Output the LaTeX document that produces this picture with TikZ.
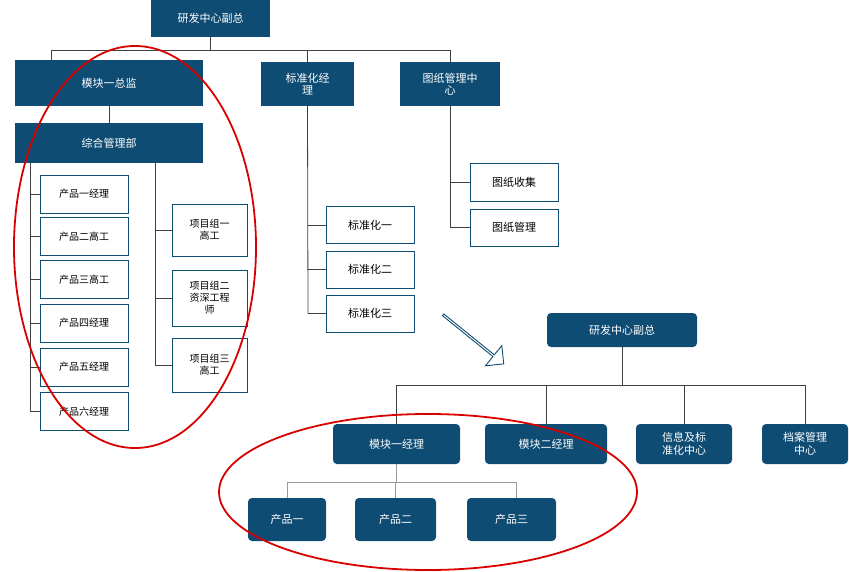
\documentclass[tikz,border=0pt]{standalone}
\usepackage{fontspec}
\setmainfont{Noto Sans CJK SC}
\usetikzlibrary{shapes.arrows}
\definecolor{nb}{HTML}{0F4C73}
\begin{document}
\begin{tikzpicture}[x=1pt,y=-1pt,
 hb/.style={fill=nb,text=white,font=\fontsize{11}{12}\selectfont,align=center,inner sep=0pt},
 wb/.style={draw=nb,fill=white,line width=0.8pt,font=\fontsize{10}{12}\selectfont,align=center,inner sep=0pt},
 rb/.style={fill=nb,text=white,rounded corners=4pt,font=\fontsize{11}{13}\selectfont,align=center,inner sep=0pt},
 ln/.style={draw=black!75,line width=0.8pt},
 tl/.style={draw=black!40,line width=0.6pt}]
\useasboundingbox (0,0) rectangle (849,572);
% top chart
\node[hb,minimum width=119,minimum height=37] (top) at (210.5,18.5) {研发中心副总};
\node[hb,minimum width=188,minimum height=46] (m1) at (109,83) {模块一总监};
\node[hb,minimum width=93,minimum height=44] (bz) at (307.5,84) {标准化经\\理};
\node[hb,minimum width=100,minimum height=44] (tz) at (450,84) {图纸管理中\\心};
\node[hb,minimum width=188,minimum height=40] (zh) at (109,143) {综合管理部};
\coordinate (hl) at (51,50);
\draw[ln] (top.south) -- (210.5,50);
\draw[ln] (51,60) -- (51,50) -- (450,50) -- (tz.north);
\draw[ln] (bz.north) -- (307.5,50);
\draw[ln] (m1.south) -- (zh.north);
\foreach \n/\t/\y in {p1/产品一经理/194,p2/产品二高工/236.5,p3/产品三高工/279.5,p4/产品四经理/323,p5/产品五经理/367,p6/产品六经理/411.5}
 \node[wb,minimum width=88,minimum height=38] (\n) at (84,\y) {\t};
\draw[ln] (30,163) -- (30,411.5);
\foreach \n in {p1,p2,p3,p4,p5,p6} \draw[ln] (30,0 |- \n.west) -- (\n.west);
\node[wb,minimum width=75,minimum height=52] (x1) at (209.5,230) {项目组一\\高工};
\node[wb,minimum width=75,minimum height=56] (x2) at (209.5,298) {项目组二\\资深工程\\师};
\node[wb,minimum width=75,minimum height=54] (x3) at (209.5,365) {项目组三\\高工};
\draw[ln] (155,163) -- (155,365);
\foreach \n in {x1,x2,x3} \draw[ln] (155,0 |- \n.west) -- (\n.west);
\foreach \n/\t/\y in {b1/标准化一/225,b2/标准化二/269.5,b3/标准化三/313.5}
 {\node[wb,font=\fontsize{11}{12}\selectfont,minimum width=88,minimum height=37] (\n) at (370,\y) {\t};
  \draw[ln] (308,\y) -- (\n.west);}
\draw[ln] (bz.south) -- (308,313.5);
\node[wb,font=\fontsize{11}{12}\selectfont,minimum width=88,minimum height=38] (t1) at (514,182) {图纸收集};
\node[wb,font=\fontsize{11}{12}\selectfont,minimum width=88,minimum height=37] (t2) at (514,227.5) {图纸管理};
\draw[ln] (tz.south) -- (450,227.5) -- (t2.west);
\draw[ln] (450,182) -- (t1.west);
% arrow
\node[single arrow,draw=nb,fill=white,line width=0.9pt,minimum height=78,minimum width=26,single arrow head extend=5pt,inner sep=0pt,rotate=-39] (ar) at (473,339) {};
% bottom chart
\node[rb,minimum width=150,minimum height=34] (t2top) at (622,330) {研发中心副总};
\node[rb,minimum width=127,minimum height=40] (n1) at (396.5,444) {模块一经理};
\node[rb,minimum width=122,minimum height=40] (n2) at (546,444) {模块二经理};
\node[rb,minimum width=96,minimum height=40] (n3) at (684,444) {信息及标\\准化中心};
\node[rb,minimum width=86,minimum height=40] (n4) at (805,444) {档案管理\\中心};
\draw[ln] (t2top.south) -- (622,385);
\draw[ln] (n1.north) -- (396.5,385) -- (805,385) -- (n4.north);
\draw[ln] (n2.north) -- (546,385);
\draw[ln] (n3.north) -- (684,385);
\node[rb,minimum width=78,minimum height=43] (c1) at (287,519.5) {产品一};
\node[rb,minimum width=81,minimum height=43] (c2) at (395.5,519.5) {产品二};
\node[rb,minimum width=89,minimum height=43] (c3) at (511.5,519.5) {产品三};
\draw[tl] (n1.south) -- (396.5,482);
\draw[tl] (c1.north) -- (287,482) -- (516,482) -- (516,498);
\draw[tl] (c2.north) -- (395.5,482);
% red ellipses
\draw[red!85!black,line width=1.8pt] (135,247) ellipse [x radius=121,y radius=201];
\draw[red!85!black,line width=1.8pt] (428,492) ellipse [x radius=209,y radius=78];
\end{tikzpicture}
\end{document}
